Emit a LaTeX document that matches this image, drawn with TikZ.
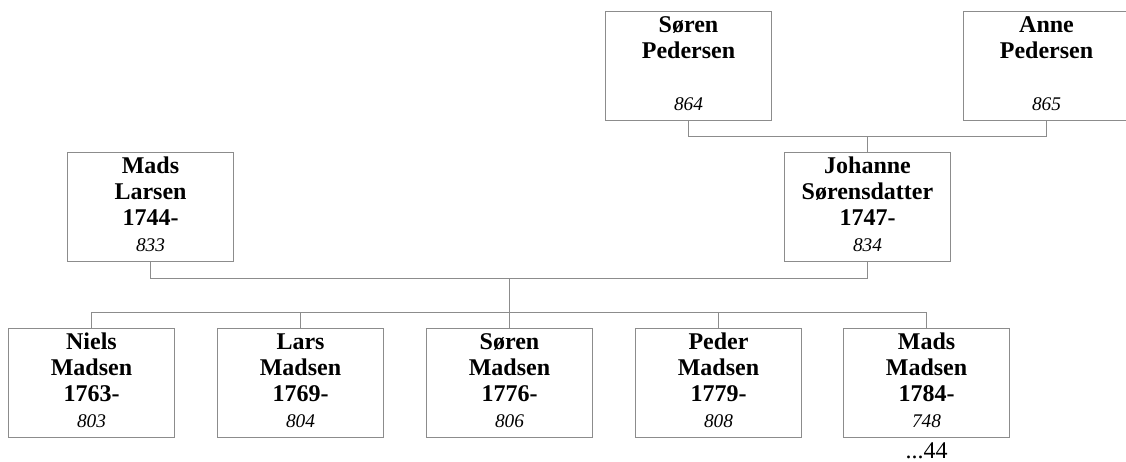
\documentclass[tikz,border=0pt]{standalone}
\usepackage{fontspec}
\setmainfont{Liberation Serif}
\usetikzlibrary{calc}

\definecolor{boxgray}{RGB}{140,140,140}
\newcommand\nr[1]{{\fontsize{14.5}{19.7}\selectfont\mdseries\itshape #1}}

\begin{document}
\begin{tikzpicture}[x=0.75pt, y=-0.75pt,
  person/.style={draw=boxgray, line width=0.75pt, anchor=north west,
    minimum width=124.5pt, minimum height=81.75pt, inner sep=0pt},
  personlabel/.style={anchor=base, inner sep=0pt,
    font=\fontsize{18}{19.7}\selectfont\bfseries},
  link/.style={draw=boxgray, line width=0.75pt}]
  \useasboundingbox (0,0) rectangle (1126,461);

  % Grandparents
  \node[person] (sorenP) at (605,11) {};
  \node[personlabel] (sorenPtxt) at ($(sorenP.north)+(0,21)$)
    {\begin{tabular}[t]{@{}c@{}}Søren\\Pedersen\\ \\\nr{864}\end{tabular}};
  \node[person] (anneP) at (963,11) {};
  \node[personlabel] (annePtxt) at ($(anneP.north)+(0,21)$)
    {\begin{tabular}[t]{@{}c@{}}Anne\\Pedersen\\ \\\nr{865}\end{tabular}};

  % Parents
  \node[person] (madsL) at (67,152) {};
  \node[personlabel] (madsLtxt) at ($(madsL.north)+(0,21)$)
    {\begin{tabular}[t]{@{}c@{}}Mads\\Larsen\\1744-\\\nr{833}\end{tabular}};
  \node[person] (johanne) at (784,152) {};
  \node[personlabel] (johannetxt) at ($(johanne.north)+(0,21)$)
    {\begin{tabular}[t]{@{}c@{}}Johanne\\Sørensdatter\\1747-\\\nr{834}\end{tabular}};

  % Children
  \foreach \id/\x/\first/\born/\num in {niels/8/Niels/1763/803, lars/217/Lars/1769/804,
      sorenM/426/Søren/1776/806, peder/635/Peder/1779/808, madsM/843/Mads/1784/748} {
    \node[person] (\id) at (\x,328) {};
    \node[personlabel] (\id txt) at ($(\id.north)+(0,21)$)
      {\begin{tabular}[t]{@{}c@{}}\first\\Madsen\\\born-\\\nr{\num}\end{tabular}};
  }
  \node[anchor=base, inner sep=0pt, font=\fontsize{18}{19.7}\selectfont]
    (madsMmore) at ($(madsM.south)+(0,20)$) {...44};

  % Connectors
  \draw[link] (sorenP.south) -- ++(0,15) -| (anneP.south);
  \draw[link] (johanne.north) -- ++(0,-16);
  \draw[link] (madsL.south) -- ++(0,16) -| (johanne.south);
  \coordinate (family) at ($(madsL.south)!0.5!(johanne.south)+(0,16)$);
  \draw[link] (family) -- ++(0,35);
  \draw[link] (niels.north) -- ++(0,-16) -| (madsM.north);
  \foreach \id in {lars, sorenM, peder}
    \draw[link] (\id.north) -- ++(0,-16);
\end{tikzpicture}
\end{document}
